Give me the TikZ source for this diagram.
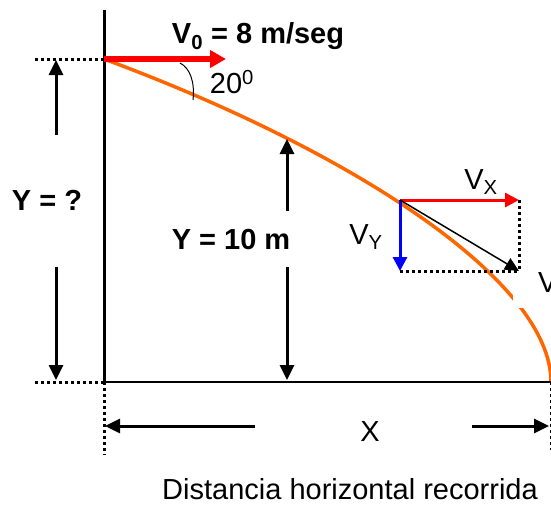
\documentclass[tikz,border=0pt]{standalone}
\usepackage{fontspec}
\setmainfont{Liberation Sans}
\usetikzlibrary{arrows.meta}
\definecolor{TrajOrange}{RGB}{255,102,0}
\definecolor{VecRed}{RGB}{255,0,0}
\definecolor{VecBlue}{RGB}{0,0,255}
\begin{document}
\begin{tikzpicture}[x=1pt, y=-1pt,
  lab/.style={font=\fontsize{29}{33}\selectfont, inner sep=0pt},
  blab/.style={font=\fontsize{29}{33}\selectfont\bfseries, inner sep=0pt},
  dim/.style={-{Triangle[length=15pt,width=14pt]}, line width=3pt},
  guide/.style={line width=3pt, dash pattern=on 3pt off 3pt},
  traj/.style={TrajOrange, line width=3.5pt},
  vred/.style={-{Triangle[length=16pt,width=17pt]}, VecRed, line width=6pt},
  comp/.style={-{Triangle[length=14pt,width=14pt]}, line width=3pt}]
\useasboundingbox (0,0) rectangle (551,504);
% key points
\coordinate (axtop) at (104,10);
\coordinate (O) at (104,59);
\coordinate (G) at (104,382);
\coordinate (E) at (551,382);
\coordinate (P) at (400,200);
\coordinate (Px) at (519,200);
\coordinate (Py) at (400,271);
\coordinate (Pv) at (519,271);
% trajectory, with the gap left by the label
\draw[traj] (O) .. controls (350,150) and (551,280) .. (E);
\fill[white] (513,292) rectangle (531,308);
\node[lab, anchor=west] (vlab) at (538,283) {V};
% axes and guides
\draw[line width=3pt] (axtop) -- (G);
\draw[line width=1.5pt] (G) -- (E);
\coordinate (gl1) at (35,59);
\coordinate (gl2) at (35,382);
\coordinate (gb1) at (104,455);
\coordinate (gb2) at (551,450);
\draw[guide] (gl1) -- (O);
\draw[guide] (gl2) -- (G);
\draw[guide] (G) -- (gb1);
\draw[guide] (E) -- (gb2);
% initial velocity
\coordinate (V0tip) at (226,59);
\draw[vred] (O) -- (V0tip);
\node[blab] (v0) at (258,36) {V\textsubscript{0} = 8 m/seg};
\draw[line width=1pt] (180,63) .. controls (190,68) and (195,82) .. (193,100);
\node[lab] (ang) at (232,82) {20\textsuperscript{0}};
% height Y = ?
\node[blab] (yq) at (47,200) {Y = ?};
\coordinate (yq1) at (56,135);
\coordinate (yq2) at (56,60);
\coordinate (yq3) at (56,267);
\coordinate (yq4) at (56,380);
\draw[dim] (yq1) -- (yq2);
\draw[dim] (yq3) -- (yq4);
% height Y = 10 m
\node[blab] (y10) at (231,240) {Y = 10 m};
\coordinate (ym1) at (287,211);
\coordinate (ym2) at (287,139);
\coordinate (ym3) at (287,267);
\coordinate (ym4) at (287,380);
\draw[dim] (ym1) -- (ym2);
\draw[dim] (ym3) -- (ym4);
% velocity components
\draw[guide] (Px) -- (Pv);
\draw[guide] (Py) -- (Pv);
\draw[comp, VecRed] (P) -- (Px);
\draw[comp, VecBlue] (P) -- (Py);
\draw[-{Triangle[length=14pt,width=13pt]}, line width=1.5pt] (P) -- (Pv);
\node[lab] (vx) at (481,182) {V\textsubscript{X}};
\node[lab] (vy) at (366,237) {V\textsubscript{Y}};
% horizontal distance
\node[lab] (xl) at (370,432) {X};
\coordinate (xa1) at (255,426);
\coordinate (xa2) at (105,426);
\coordinate (xa3) at (472,426);
\coordinate (xa4) at (549,426);
\draw[dim] (xa1) -- (xa2);
\draw[dim] (xa3) -- (xa4);
\node[lab] (dist) at (350,489) {Distancia horizontal recorrida};
\end{tikzpicture}
\end{document}
